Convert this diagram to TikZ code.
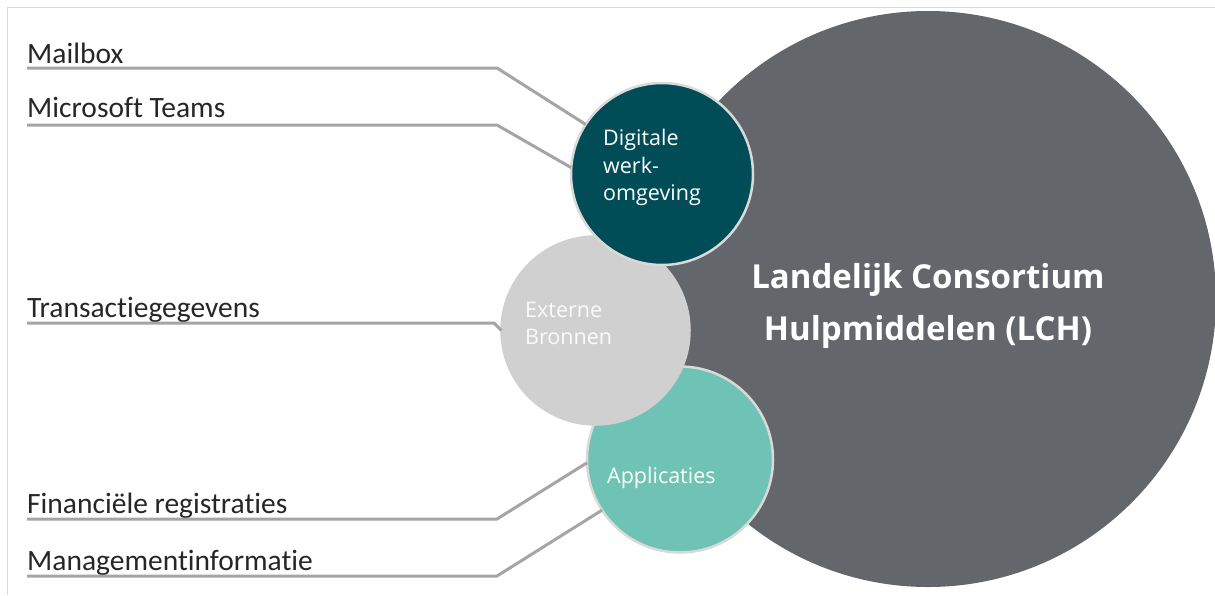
\documentclass[tikz,border=0pt]{standalone}
\usepackage{fontspec}
\setmainfont{Carlito}[Ligatures=NoCommon]
\newfontfamily\osans{Open Sans}
\newfontfamily\osansb{Open Sans Bold}
\definecolor{biggray}{HTML}{63666A}
\definecolor{darkteal}{HTML}{004C57}
\definecolor{lightgr}{HTML}{D0D0D0}
\definecolor{mint}{HTML}{6FC3B5}
\definecolor{ringgr}{HTML}{D9D9D9}
\definecolor{linegr}{HTML}{A5A5A5}
\definecolor{framegr}{HTML}{D9D9D9}
\definecolor{labeltext}{HTML}{262626}
\begin{document}
\begin{tikzpicture}[x=1pt,y=-1pt,
  bubble/.style={circle,inner sep=0pt,outer sep=0pt,draw=ringgr,line width=2.5pt},
  lbl/.style={anchor=base west,inner sep=0pt,font=\fontsize{29.5}{31}\selectfont,text=labeltext},
  intext/.style={anchor=base west,inner sep=0pt,font=\osans\fontsize{21.5}{23}\selectfont,text=white},
  bigtext/.style={anchor=base,inner sep=0pt,font=\osansb\fontsize{33}{35}\selectfont,text=white},
  conn/.style={draw=linegr,line width=3pt,line join=round}]
\useasboundingbox (0,0) rectangle (1215,595);
% frame
\draw[framegr,line width=1pt] (7,595) -- (7,7) -- (1215,7);
% circles
\node[circle,inner sep=0pt,fill=biggray,minimum size=576pt] (big) at (928,299) {};
\node[bubble,fill=mint,minimum size=186pt] (app) at (680,459.5) {};
\node[bubble,draw=lightgr,fill=lightgr,minimum size=188pt] (ext) at (595.5,330.5) {};
\node[bubble,fill=darkteal,minimum size=182pt] (dig) at (662,174) {};
% circle texts
\node[bigtext] (lch1) at (928,288) {Landelijk Consortium};
\node[bigtext] (lch2) at (928,340) {Hulpmiddelen (LCH)};
\node[intext] (dig1) at (603,145) {Digitale};
\node[intext] (dig2) at (603,173) {werk-};
\node[intext] (dig3) at (603,200) {omgeving};
\node[intext,text=white!92!lightgr] (ext1) at (525,317) {Externe};
\node[intext,text=white!92!lightgr] (ext2) at (525,344) {Bronnen};
\node[intext] (app1) at (607,483) {Applicaties};
% labels
\node[lbl] (mail) at (27,63) {Mailbox};
\node[lbl] (teams) at (27,117) {Microsoft Teams};
\node[lbl] (trans) at (27,317) {Transactiegegevens};
\node[lbl] (fin) at (27,513) {Financiële registraties};
\node[lbl] (mgmt) at (27,570) {Managementinformatie};
% corners
\coordinate (cm) at (497,68);
\coordinate (ct) at (497,125);
\coordinate (cx) at (494,323);
\coordinate (cf) at (497,519);
\coordinate (cg) at (497,576);
% connectors
\draw[conn] ([yshift=-5pt]mail.base west) -- (cm) -- (dig.147);
\draw[conn] ([yshift=-8pt]teams.base west) -- (ct) -- (dig.176);
\draw[conn] ([yshift=-6pt]trans.base west) -- (cx) -- (ext.180);
\draw[conn] ([yshift=-6pt]fin.base west) -- (cf) -- (app.182);
\draw[conn] ([yshift=-6pt]mgmt.base west) -- (cg) -- (app.213);
\end{tikzpicture}
\end{document}
